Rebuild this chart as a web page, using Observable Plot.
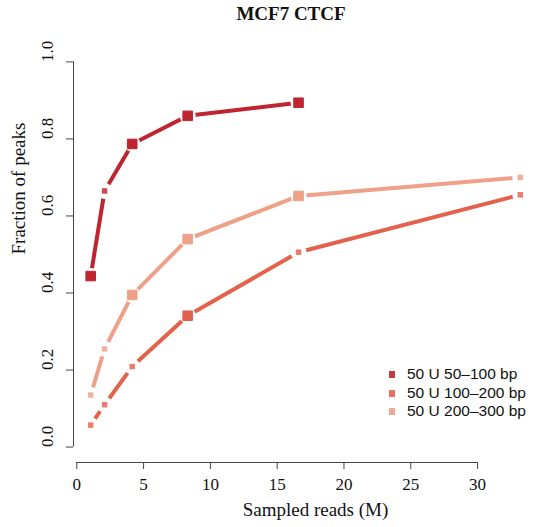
<!DOCTYPE html>
<html>
<head>
<meta charset="utf-8">
<script src="https://cdn.jsdelivr.net/npm/d3@7"></script>
<script src="https://cdn.jsdelivr.net/npm/@observablehq/plot@0.6"></script>
<style>
  html, body { margin: 0; padding: 0; background: #fff; }
  #wrap { position: relative; width: 541px; height: 527px; overflow: hidden; }
  #title { position: absolute; left: 0; width: 582px; top: 3px; text-align: center;
           font-family: "Liberation Serif", "Times New Roman", serif; font-weight: bold; font-size: 19px; color: #111; }
  #legend { position: absolute; left: 389px; top: 365px; font-family: "Liberation Sans", Arial, sans-serif;
            font-size: 15.5px; color: #111; line-height: 18.7px; }
  #legend .row { display: flex; align-items: center; white-space: nowrap; }
  #legend .sw { width: 6px; height: 7px; margin-right: 12px; display: inline-block; opacity: 0.9; }
  svg text { font-family: "Liberation Serif", "Times New Roman", serif; }
</style>
</head>
<body>
<div id="wrap">
  <div id="title">MCF7 CTCF</div>
  <div id="legend"></div>
</div>
<script>
// ---- data ----
const seriesNames = ["50 U 50\u2013100 bp", "50 U 100\u2013200 bp", "50 U 200\u2013300 bp"];
const sampledReads = [1.04, 2.08, 4.15, 8.3, 16.6, 33.2];
const frac50to100  = [0.444, 0.665, 0.787, 0.860, 0.894];
const frac100to200 = [0.057, 0.110, 0.209, 0.341, 0.506, 0.655];
const frac200to300 = [0.135, 0.255, 0.395, 0.540, 0.652, 0.700];
const marked50to100  = [true, false, true, true, true];
const marked100to200 = [false, false, false, true, false, false];
const marked200to300 = [false, false, true, true, true, false];
const xTicks = [0, 5, 10, 15, 20, 25, 30];
const yTicks = [0, 0.2, 0.4, 0.6, 0.8, 1.0];
const xLabel = "Sampled reads (M)";
const yLabel = "Fraction of peaks";

const palette = ["#BE2530", "#E3624D", "#EEA088"];

const valueSets = [frac50to100, frac100to200, frac200to300];
const markSets = [marked50to100, marked100to200, marked200to300];
const rows = [];
valueSets.forEach((vals, si) => {
  vals.forEach((v, i) => rows.push({series: seriesNames[si], x: sampledReads[i], y: v, big: markSets[si][i]}));
});

// R-style 4% axis expansion
const ext = d3.extent(sampledReads);
const pad = (ext[1] - ext[0]) * 0.04;
const xDomain = [ext[0] - pad, ext[1] + pad];
const yDomain = [-0.04, 1.04];

const serif = "Liberation Serif, Times New Roman, serif";
const axisColor = "#444";

const chart = Plot.plot({
  width: 541,
  height: 527,
  marginLeft: 73,
  marginRight: 4,
  marginTop: 46,
  marginBottom: 65,
  style: {fontFamily: serif, fontSize: "17px", color: "#111", background: "transparent"},
  x: {domain: xDomain, label: null},
  y: {domain: yDomain, label: null},
  color: {domain: seriesNames, range: palette},
  marks: [
    Plot.axisX({ticks: xTicks, tickSize: 7, tickPadding: 8, tickFormat: d => String(d), stroke: axisColor, fontSize: 17, fontFamily: serif, fontVariant: "normal", label: null}),
    Plot.ruleY([yDomain[0]], {x1: xTicks[0], x2: xTicks[xTicks.length - 1], stroke: axisColor, strokeWidth: 1}),
    Plot.axisY({ticks: yTicks, tickSize: 7, tickFormat: () => "", stroke: axisColor, label: null}),
    Plot.ruleX([xDomain[0]], {y1: yTicks[0], y2: yTicks[yTicks.length - 1], stroke: axisColor, strokeWidth: 1}),
    Plot.text(yTicks, {y: d => d, text: d => d.toFixed(1), frameAnchor: "left", dx: -26, rotate: -90, fontSize: 17, fontFamily: serif, fill: "#111"}),
    Plot.text([xLabel], {frameAnchor: "bottom", dy: 53, dx: 10, fontSize: 19, fontFamily: serif, fill: "#111"}),
    Plot.text([yLabel], {frameAnchor: "left", dx: -55, rotate: -90, fontSize: 19, fontFamily: serif, fill: "#111"}),
    Plot.line(rows, {x: "x", y: "y", z: "series", stroke: "series", strokeWidth: 4, strokeLinecap: "butt", strokeLinejoin: "miter"}),
    Plot.dot(rows, {x: "x", y: "y", r: 8, fill: "white", stroke: "none"}),
    Plot.dot(rows.filter(d => d.big), {x: "x", y: "y", symbol: "square", r: 5.4, fill: "series", stroke: "series", strokeWidth: 1, strokeLinejoin: "round"}),
    Plot.dot(rows.filter(d => !d.big), {x: "x", y: "y", symbol: "square", r: 3.1, fill: "series", fillOpacity: 0.82, stroke: "none"})
  ]
});

const wrap = document.getElementById("wrap");
chart.style.position = "absolute";
chart.style.left = "0";
chart.style.top = "0";
wrap.insertBefore(chart, wrap.firstChild);

const legend = document.getElementById("legend");
seriesNames.forEach((name, i) => {
  const row = document.createElement("div");
  row.className = "row";
  const sw = document.createElement("span");
  sw.className = "sw";
  sw.style.background = palette[i];
  row.appendChild(sw);
  row.appendChild(document.createTextNode(name));
  legend.appendChild(row);
});
</script>
</body>
</html>
